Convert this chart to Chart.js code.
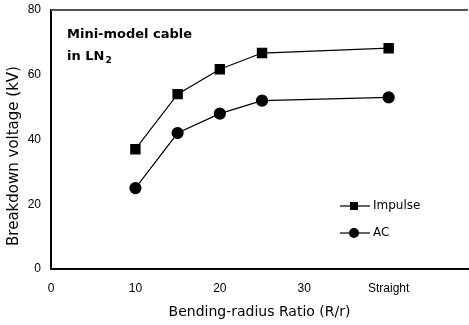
<!DOCTYPE html>
<html>
<head>
<meta charset="utf-8">
<script src="https://cdn.jsdelivr.net/npm/chart.js@4"></script>
<style>
  html, body { margin: 0; padding: 0; background: #fff; }
  #wrap { width: 469px; height: 325px; }
</style>
</head>
<body>
<div id="wrap"><canvas id="bdChart" width="469" height="325"></canvas></div>
<script>
// bending radius ratio; "Straight" is placed at x = 40
const ratios = [10, 15, 20, 25, 40];
const impulse = [37, 54, 61.7, 66.7, 68.2];
const ac = [25, 42, 48, 52, 53];
const xTickLabels = { 0: '0', 10: '10', 20: '20', 30: '30', 40: 'Straight' };
const yTicks = [0, 20, 40, 60, 80];

const tickFont = '"Liberation Sans", Arial, sans-serif';
const textFont = '"DejaVu Sans", sans-serif';

function pts(vals) {
  return ratios.map((r, i) => ({ x: r, y: vals[i] }));
}

// top frame, y title, annotation and legend drawn by hand
const extras = {
  id: 'extras',
  afterDraw(chart) {
    const { ctx, chartArea } = chart;
    ctx.save();
    // grey top border
    ctx.strokeStyle = '#555';
    ctx.lineWidth = 2;
    ctx.beginPath();
    ctx.moveTo(chartArea.left, chartArea.top);
    ctx.lineTo(chartArea.right, chartArea.top);
    ctx.stroke();

    // y axis title (sits a bit below the centre in the original)
    ctx.save();
    ctx.translate(14, 156);
    ctx.rotate(-Math.PI / 2);
    ctx.fillStyle = '#000';
    ctx.font = '15px ' + textFont;
    ctx.textAlign = 'center';
    ctx.textBaseline = 'middle';
    ctx.fillText('Breakdown voltage (kV)', 0, 0);
    ctx.restore();

    // label in the corner
    ctx.fillStyle = '#000';
    ctx.font = 'bold 13px ' + textFont;
    ctx.textBaseline = 'alphabetic';
    ctx.fillText('Mini-model cable', 67, 38);
    ctx.fillText('in LN', 67, 60);
    const w = ctx.measureText('in LN').width;
    ctx.font = 'bold 9px ' + textFont;
    ctx.fillText('2', 67 + w + 1, 63);

    // legend
    const items = chart.data.datasets;
    const ys = [206, 233];
    items.forEach((ds, i) => {
      const y = ys[i];
      ctx.strokeStyle = '#000';
      ctx.lineWidth = 1.2;
      ctx.beginPath();
      ctx.moveTo(340, y);
      ctx.lineTo(370, y);
      ctx.stroke();
      ctx.fillStyle = '#000';
      if (ds.pointStyle === 'rect') {
        ctx.fillRect(350, y - 4, 8, 8);
      } else {
        ctx.beginPath();
        ctx.arc(354, y, 5, 0, Math.PI * 2);
        ctx.fill();
      }
      ctx.font = '12px ' + textFont;
      ctx.textBaseline = 'middle';
      ctx.fillText(ds.label, 373, y);
    });
    ctx.restore();
  }
};

new Chart(document.getElementById('bdChart'), {
  type: 'line',
  data: {
    datasets: [
      {
        label: 'Impulse',
        data: pts(impulse),
        borderColor: '#000',
        backgroundColor: '#000',
        borderWidth: 1.2,
        pointStyle: 'rect',
        pointRadius: 6.5,
        pointHoverRadius: 6.5,
        tension: 0
      },
      {
        label: 'AC',
        data: pts(ac),
        borderColor: '#000',
        backgroundColor: '#000',
        borderWidth: 1.2,
        pointStyle: 'circle',
        pointRadius: 5.5,
        pointHoverRadius: 5.5,
        tension: 0
      }
    ]
  },
  options: {
    responsive: false,
    maintainAspectRatio: false,
    animation: false,
    layout: { autoPadding: false, padding: { top: 10, right: 1, left: 0, bottom: 0 } },
    plugins: {
      legend: { display: false },
      tooltip: { enabled: false }
    },
    scales: {
      x: {
        type: 'linear',
        min: 0,
        max: 49.4,
        afterBuildTicks: (axis) => {
          axis.ticks = Object.keys(xTickLabels).map(v => ({ value: +v }));
        },
        afterFit: (axis) => {
          axis.height = 56;
          axis.paddingLeft = 0;
          axis.paddingRight = 0;
        },
        grid: { display: false, drawTicks: false },
        border: { display: true, color: '#000', width: 2 },
        ticks: {
          color: '#000',
          font: { family: tickFont, size: 12 },
          padding: 12,
          maxRotation: 0,
          autoSkip: false,
          callback: (v) => xTickLabels[v] ?? ''
        },
        title: {
          display: true,
          text: 'Bending-radius Ratio (R/r)',
          color: '#000',
          font: { family: textFont, size: 14 },
          padding: { top: 7 }
        }
      },
      y: {
        min: 0,
        max: 80,
        afterBuildTicks: (axis) => {
          axis.ticks = yTicks.map(v => ({ value: v }));
        },
        afterFit: (axis) => {
          axis.width = 51;
          axis.paddingTop = 0;
          axis.paddingBottom = 0;
        },
        grid: { display: false, drawTicks: false },
        border: { display: true, color: '#000', width: 2 },
        ticks: {
          color: '#000',
          font: { family: tickFont, size: 12 },
          padding: 10
        },
        title: { display: false }
      }
    }
  },
  plugins: [extras]
});
</script>
</body>
</html>
